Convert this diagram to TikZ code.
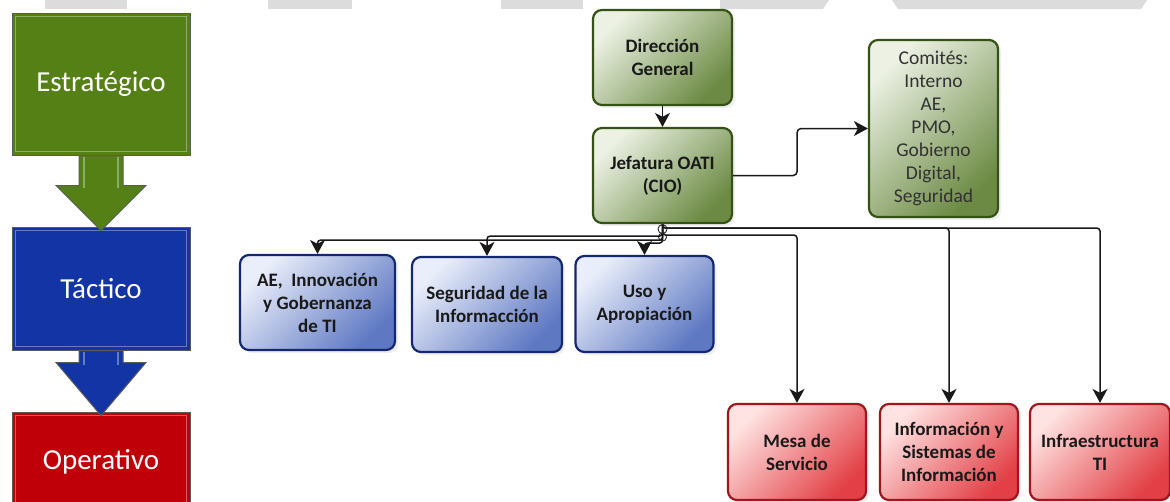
\documentclass[tikz,border=0pt]{standalone}
\usepackage{fontspec}
\setmainfont{Carlito}
\usetikzlibrary{arrows.meta,shadows}
\definecolor{topbar}{RGB}{220,220,220}
\definecolor{lgreen}{RGB}{84,128,22}
\definecolor{lblue}{RGB}{18,52,165}
\definecolor{lred}{RGB}{192,0,8}
\definecolor{ledge}{RGB}{90,90,90}
\definecolor{glight}{RGB}{236,241,228}
\definecolor{gdark}{RGB}{108,138,68}
\definecolor{gborder}{RGB}{52,82,20}
\definecolor{blight}{RGB}{234,238,250}
\definecolor{bdark}{RGB}{94,120,194}
\definecolor{bborder}{RGB}{20,40,112}
\definecolor{rlight}{RGB}{255,226,226}
\definecolor{rdark}{RGB}{226,64,70}
\definecolor{rborder}{RGB}{160,22,28}
\definecolor{comtext}{RGB}{50,50,50}
\tikzset{
  lvl/.style={rectangle, draw=ledge, line width=1pt, minimum width=178pt, inner sep=0pt,
    text=white, font=\fontsize{29}{34}\selectfont},
  bevel/.style={draw=white, line width=1.6pt, opacity=0.35},
  blockarrow/.style={draw=ledge, line width=1pt, line join=miter},
  box/.style={rectangle, rounded corners=9pt, line width=2.2pt, inner sep=2pt, align=center,
    font=\bfseries\fontsize{19}{23}\selectfont, text=black!90,
    drop shadow={opacity=0.12, shadow xshift=3pt, shadow yshift=-3pt}},
  gbox/.style={box, draw=gborder, top color=glight, bottom color=gdark, shading angle=45},
  bbox/.style={box, draw=bborder, top color=blight, bottom color=bdark, shading angle=45},
  rbox/.style={box, draw=rborder, top color=rlight, bottom color=rdark, shading angle=45},
  tipv/.tip={Stealth[length=14pt, width=15pt, inset=4pt, sharp]},
  conn/.style={draw=black!90, line width=1.5pt, rounded corners=3pt, arrows={-tipv}},
  jump/.style={draw=black!85, line width=0.9pt}
}
\begin{document}
\begin{tikzpicture}[x=1pt, y=-1pt]
\useasboundingbox (0,0) rectangle (1170,501);
\clip (0,0) rectangle (1170,501);
\fill[white] (0,0) rectangle (1170,501);

% top grey bars
\fill[topbar] (45,0) rectangle (127,9);
\fill[topbar] (268,0) rectangle (352,9);
\fill[topbar] (501,0) rectangle (583,9);
\fill[topbar] (720,0) -- (829,0) -- (823,9) -- (720,9) -- cycle;
\fill[topbar] (892,0) -- (1147,0) -- (1141,9) -- (898,9) -- cycle;

% left column
\node[lvl, fill=lgreen, minimum height=142pt] (est) at (101,84) {Estratégico};
\node[lvl, fill=lblue, minimum height=123pt] (tac) at (101,288.5) {Táctico};
\node[lvl, fill=lred, minimum height=100pt] (ope) at (101,462) {Operativo};
\draw[bevel] ([shift={(4,4)}]est.north west) rectangle ([shift={(-4,-4)}]est.south east);
\draw[bevel] ([shift={(4,4)}]tac.north west) rectangle ([shift={(-4,-4)}]tac.south east);
\draw[bevel] ([shift={(4,4)}]ope.north west) rectangle ([shift={(-4,-4)}]ope.south east);

\draw[blockarrow, fill=lgreen] (est.south) ++(-22,0) -- ++(44,0) -- ++(0,30) -- ++(23,0)
   -- ++(-45,45) -- ++(-45,-45) -- ++(23,0) -- cycle;
\draw[bevel] (est.south) ++(-17,1) -- ++(0,31);
\draw[bevel] (est.south) ++(17,1) -- ++(0,31);
\draw[blockarrow, fill=lblue] (tac.south) ++(-22,0) -- ++(44,0) -- ++(0,12) -- ++(23,0)
   -- ++(-45,53) -- ++(-45,-53) -- ++(23,0) -- cycle;
\draw[bevel] (tac.south) ++(-17,1) -- ++(0,13);
\draw[bevel] (tac.south) ++(17,1) -- ++(0,13);

% right diagram
\node[gbox, minimum width=139pt, minimum height=95pt] (dir) at (662.5,57.5) {Dirección\\General};
\node[gbox, minimum width=139pt, minimum height=95pt] (jef) at (662.5,175.5) {Jefatura OATI\\(CIO)};
\node[gbox, minimum width=129pt, minimum height=177pt, font=\fontsize{19.5}{23}\selectfont, text=comtext] (com) at (933.5,128.5)
   {Comités:\\Interno\\AE,\\PMO,\\Gobierno\\Digital,\\Seguridad};

\node[bbox, minimum width=155pt, minimum height=95pt] (ae) at (317.5,302.5) {AE,\ \ Innovación\\y Gobernanza\\de TI};
\node[bbox, minimum width=150pt, minimum height=95pt] (seg) at (487,304.5) {Seguridad de la\\Informacción};
\node[bbox, minimum width=138pt, minimum height=96pt] (uso) at (644.5,304) {Uso y\\Apropiación};

\node[rbox, minimum width=138pt, minimum height=96pt] (mesa) at (797,452) {Mesa de\\Servicio};
\node[rbox, minimum width=138pt, minimum height=96pt] (info) at (949,452) {Información y\\Sistemas de\\Información};
\node[rbox, minimum width=140pt, minimum height=96pt] (infra) at (1100,452) {Infraestructura\\TI};

% connectors
\draw[conn] (dir.south) -- (jef.north);
\draw[conn, rounded corners=4pt] (jef.east) -- ++(64,0) |- (com.west);

\draw[conn] (jef.south) -- ++(0,4) -| (info.north);
\draw[conn] (jef.south) -- ++(0,4) -| (infra.north);
\draw[conn] (jef.south) -- ++(0,11) -| (mesa.north);
\draw[conn] (jef.south) -- ++(0,12) -| (seg.north);
\draw[conn] (jef.south) -- ++(0,16) -| (ae.north);
\draw[conn] (jef.south) -- ++(0,19) -| (uso.north);

% line jumps
\draw[jump] (jef.south) ++(0,5) circle (4.5);
\draw[jump] (jef.south) ++(0,13) circle (4);
\end{tikzpicture}
\end{document}
